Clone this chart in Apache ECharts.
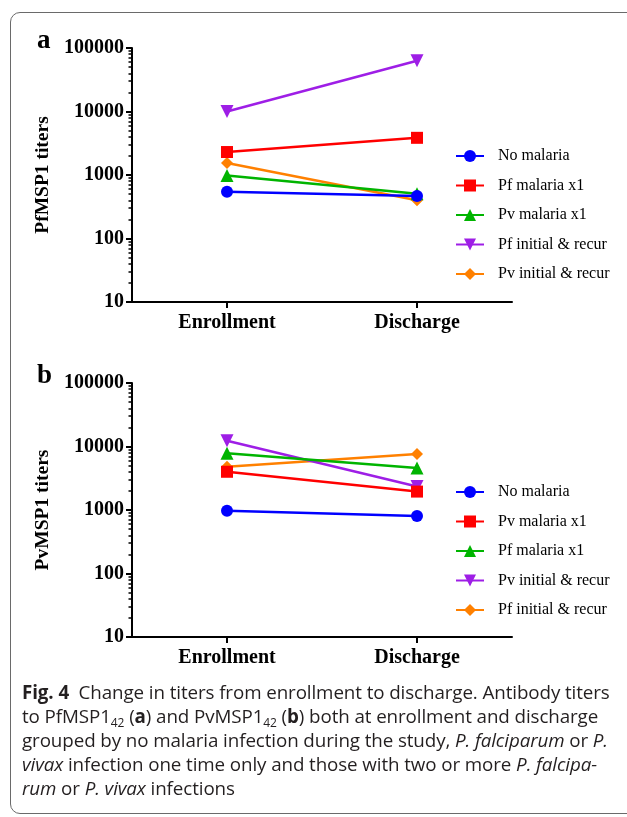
<!DOCTYPE html>
<html>
<head>
<meta charset="utf-8">
<script src="https://cdn.jsdelivr.net/npm/echarts@6/dist/echarts.min.js"></script>
<style>
  html, body { margin: 0; padding: 0; background: #fff; }
  #wrap { position: relative; width: 627px; height: 817px; overflow: hidden; }
  #frame { position: absolute; left: 10px; top: 12px; width: 640px; height: 802px;
           border: 1.3px solid #6a6a6a; border-radius: 10px; box-sizing: border-box; }
  #chart { position: absolute; left: 0; top: 0; width: 627px; height: 817px; }
  #caption { position: absolute; left: 22px; top: 680px; width: 600px;
             font-family: "Open Sans", "Noto Sans", sans-serif; font-size: 18.8px;
             line-height: 24px; color: #231f20; white-space: nowrap; letter-spacing: -0.1px; }
  #caption b { font-weight: 700; }
  #caption sub { font-size: 12px; vertical-align: -4px; line-height: 0; }
</style>
</head>
<body>
<div id="wrap">
  <div id="frame"></div>
  <div id="chart"></div>
  <div id="caption">
    <b>Fig. 4</b>&nbsp; Change in titers from enrollment to discharge. Antibody titers<br>
    to PfMSP1<sub>42</sub> (<b>a</b>) and PvMSP1<sub>42</sub> (<b>b</b>) both at enrollment and discharge<br>
    grouped by no malaria infection during the study, <i>P. falciparum</i> or <i>P.</i><br>
    <i>vivax</i> infection one time only and those with two or more <i>P. falcipa-</i><br>
    <i>rum</i> or <i>P. vivax</i> infections
  </div>
</div>
<script>
// ---- data ----
const categories = ['Enrollment', 'Discharge'];
const yTickLabels = [10, 100, 1000, 10000, 100000];

const namesA = ['No malaria', 'Pf malaria x1', 'Pv malaria x1', 'Pf initial & recur', 'Pv initial & recur'];
const noMalariaA   = [545, 465];
const pfMalariaA   = [2300, 3850];
const pvMalariaA   = [980, 505];
const pfRecurA     = [10000, 63000];
const pvRecurA     = [1550, 400];

const namesB = ['No malaria', 'Pv malaria x1', 'Pf malaria x1', 'Pv initial & recur', 'Pf initial & recur'];
const noMalariaB   = [970, 805];
const pvMalariaB   = [4000, 1950];
const pfMalariaB   = [7800, 4600];
const pvRecurB     = [12300, 2350];
const pfRecurB     = [4800, 7600];

const colors  = ['#0000ff', '#ff0000', '#00b400', '#9e1ee6', '#ff8000'];
const symbols = ['circle', 'rect', 'triangle', 'triangle', 'diamond'];
const symRot  = [0, 0, 0, 180, 0];
const symSize = [12, 12, 13, 13, 12];

// minor tick values for the log axis
const minorTicks = [];
for (let d = 10; d < 100000; d *= 10) {
  for (let k = 2; k <= 9; k++) minorTicks.push(d * k);
}

const serif = '"Liberation Serif", "Times New Roman", serif';

function makeSeries(names, dataArr, gridIdx, prefix) {
  return names.map((n, i) => ({
    name: prefix + n,
    type: 'line',
    xAxisIndex: gridIdx,
    yAxisIndex: gridIdx * 2,
    data: dataArr[i],
    symbol: symbols[i],
    symbolRotate: symRot[i],
    symbolSize: symSize[i],
    lineStyle: { color: colors[i], width: 2.5 },
    itemStyle: { color: colors[i] },
    emphasis: { disabled: true },
    animation: false,
    z: 10 - i
  }));
}

function yAxes(gridIdx, title) {
  return [
    {
      type: 'log', logBase: 10, min: 10, max: 100000, gridIndex: gridIdx,
      name: title, nameLocation: 'middle', nameGap: 77,
      nameTextStyle: { fontFamily: serif, fontWeight: 'bold', fontSize: 19.5, color: '#000' },
      axisLine: { show: true, lineStyle: { color: '#000', width: 2 } },
      axisTick: { show: true, length: 6, lineStyle: { color: '#000', width: 2 },
                  customValues: yTickLabels },
      axisLabel: { fontFamily: serif, fontWeight: 'bold', fontSize: 20, color: '#000', margin: 8,
                   customValues: yTickLabels,
                   formatter: v => String(Math.round(v)) },
      splitLine: { show: false },
      minorTick: { show: false }
    },
    {
      type: 'log', logBase: 10, min: 10, max: 100000, gridIndex: gridIdx, position: 'left',
      axisLine: { show: false },
      axisTick: { show: true, length: 3.5, lineStyle: { color: '#000', width: 1.5 },
                  customValues: minorTicks },
      axisLabel: { show: false },
      splitLine: { show: false }
    }
  ];
}

function xAxis(gridIdx) {
  return {
    type: 'category', data: categories, gridIndex: gridIdx, boundaryGap: true,
    axisLine: { show: true, lineStyle: { color: '#000', width: 2 } },
    axisTick: { show: true, alignWithLabel: true, length: 6, lineStyle: { color: '#000', width: 2 } },
    axisLabel: { fontFamily: serif, fontWeight: 'bold', fontSize: 20, color: '#000', margin: 11 },
    splitLine: { show: false }
  };
}

function legend(names, prefix, top) {
  return {
    orient: 'vertical', left: 450, top: top,
    data: names.map(n => prefix + n),
    formatter: n => n.replace(prefix, ''),
    itemWidth: 28, itemHeight: 15, itemGap: 13.5,
    textStyle: { fontFamily: serif, fontSize: 16, color: '#000', padding: [0, 0, 0, 9] },
    selectedMode: false
  };
}

const chart = echarts.init(document.getElementById('chart'), null, { renderer: 'canvas' });
chart.setOption({
  animation: false,
  grid: [
    { left: 132, top: 48, width: 380, height: 254 },
    { left: 132, top: 383, width: 380, height: 254 }
  ],
  xAxis: [xAxis(0), xAxis(1)],
  yAxis: [...yAxes(0, 'PfMSP1 titers'), ...yAxes(1, 'PvMSP1 titers')],
  legend: [legend(namesA, '', 143), legend(namesB, 'b:', 479)],
  series: [
    ...makeSeries(namesA, [noMalariaA, pfMalariaA, pvMalariaA, pfRecurA, pvRecurA], 0, ''),
    ...makeSeries(namesB, [noMalariaB, pvMalariaB, pfMalariaB, pvRecurB, pfRecurB], 1, 'b:')
  ],
  graphic: [
    { type: 'text', left: 37, top: 28, style: { text: 'a', font: 'bold 27px ' + serif, fill: '#000' } },
    { type: 'text', left: 37, top: 363, style: { text: 'b', font: 'bold 27px ' + serif, fill: '#000' } }
  ]
});
</script>
</body>
</html>
